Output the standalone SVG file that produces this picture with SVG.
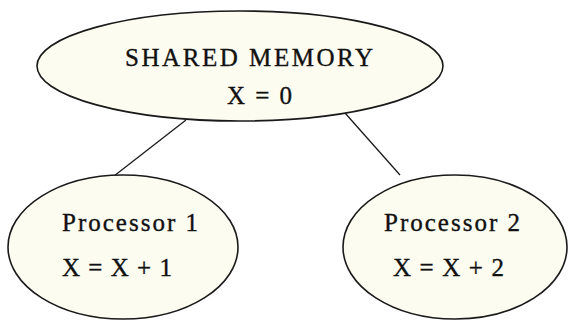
<svg xmlns="http://www.w3.org/2000/svg" width="568" height="322" viewBox="0 0 568 322">
  <style>
    .node { fill: #FDFCF0; stroke: #1a1a1a; stroke-width: 1.6; }
    .edge { stroke: #1a1a1a; stroke-width: 1.3; fill: none; }
    .label { font-family: "Liberation Serif", "DejaVu Serif", serif; font-size: 25px; fill: #111; stroke: #111; stroke-width: 0.35; }
  </style>
  <rect width="568" height="322" fill="#ffffff"/>
  <g id="connectors">
    <line class="edge" x1="186" y1="120" x2="114" y2="176"/>
    <line class="edge" x1="345" y1="113" x2="400" y2="175"/>
  </g>
  <g id="shared-memory">
    <ellipse class="node" cx="240" cy="66" rx="203" ry="55"/>
    <text class="label" x="125" y="66" textLength="248" lengthAdjust="spacing">SHARED MEMORY</text>
    <text class="label" x="227" y="104" textLength="65" lengthAdjust="spacing">X = 0</text>
  </g>
  <g id="processor-1">
    <ellipse class="node" cx="123" cy="247" rx="115" ry="72"/>
    <text class="label" x="62" y="231" textLength="136" lengthAdjust="spacing">Processor 1</text>
    <text class="label" x="62" y="276" textLength="110" lengthAdjust="spacing">X = X + 1</text>
  </g>
  <g id="processor-2">
    <ellipse class="node" cx="455" cy="247" rx="112" ry="72"/>
    <text class="label" x="384" y="231" textLength="136" lengthAdjust="spacing">Processor 2</text>
    <text class="label" x="393" y="276" textLength="111" lengthAdjust="spacing">X = X + 2</text>
  </g>
</svg>
